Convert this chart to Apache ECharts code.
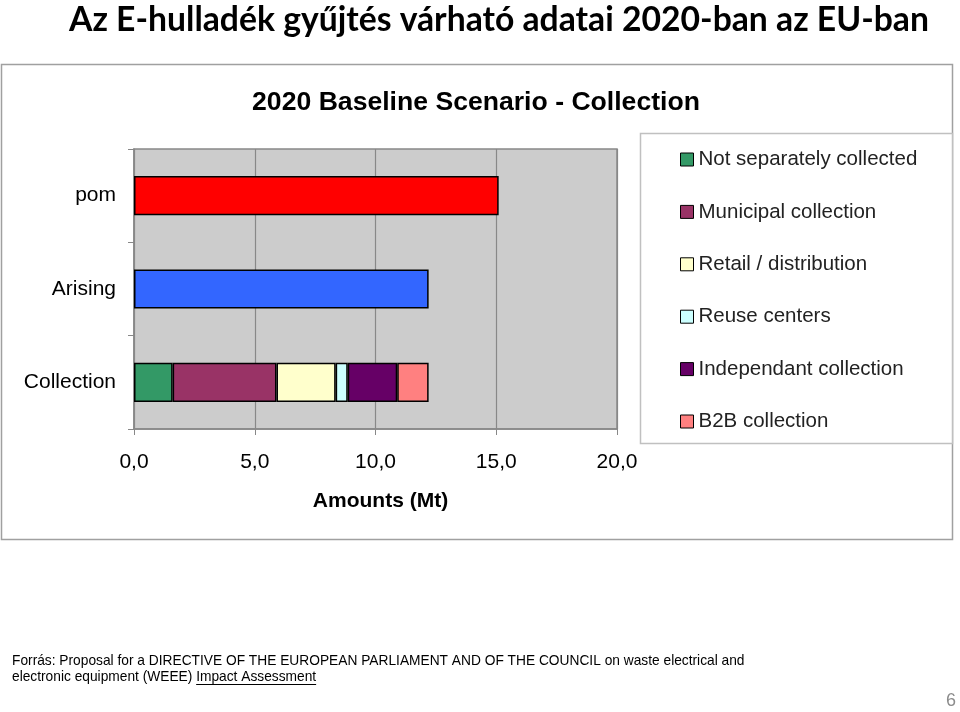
<!DOCTYPE html>
<html><head><meta charset="utf-8">
<script src="https://cdn.jsdelivr.net/npm/echarts@6/dist/echarts.min.js"></script>
<style>html,body{margin:0;padding:0;background:#fff}#c{width:960px;height:712px}</style>
</head><body><div id="c"></div>
<script>
var categories = ['Collection', 'Arising', 'pom'];
var xTicks = ['0,0', '5,0', '10,0', '15,0', '20,0'];
var pomValue = 15.1;
var arisingValue = 12.2;
var collectionNames = ['Not separately collected', 'Municipal collection', 'Retail / distribution', 'Reuse centers', 'Independant collection', 'B2B collection'];
var collectionValues = [1.6, 4.3, 2.45, 0.5, 2.05, 1.3];
var collectionColors = ['#339966', '#993366', '#ffffcc', '#ccffff', '#660066', '#ff8080'];

var font = 'Liberation Sans, Arial, sans-serif';
var footFont = '13.75px Liberation Sans';
var cv = document.createElement('canvas').getContext('2d');
cv.font = footFont;
var ulX1 = 12 + cv.measureText('electronic equipment (WEEE) ').width;
var ulX2 = ulX1 + cv.measureText('Impact Assessment').width;

var barStyle = function (c) { return { color: c, borderColor: '#000', borderWidth: 1.5 }; };
var series = [
  { name: 'pom', type: 'bar', stack: 't', data: ['-', '-', pomValue], itemStyle: barStyle('#ff0000'), barCategoryGap: '58%' },
  { name: 'Arising', type: 'bar', stack: 't', data: ['-', arisingValue, '-'], itemStyle: barStyle('#3366ff') }
];
collectionNames.forEach(function (n, i) {
  series.push({ name: n, type: 'bar', stack: 't', data: [collectionValues[i], '-', '-'], itemStyle: barStyle(collectionColors[i]) });
});

var chart = echarts.init(document.getElementById('c'));
chart.setOption({
  animation: false,
  title: [
    { text: 'Az E-hulladék gyűjtés várható adatai 2020-ban az EU-ban', left: 494, top: -2, textAlign: 'center',
      textStyle: { fontFamily: 'Lato, Open Sans, sans-serif', fontWeight: 'bold', fontSize: 33.7, color: '#000' } },
    { text: '2020 Baseline Scenario - Collection', left: 471, top: 84, textAlign: 'center',
      textStyle: { fontFamily: font, fontWeight: 'bold', fontSize: 26.6, color: '#000' } }
  ],
  graphic: [
    { type: 'rect', shape: { x: 1.5, y: 64.5, width: 951, height: 475 }, style: { fill: 'none', stroke: '#a0a0a0', lineWidth: 1.5 }, z: -1 },
    { type: 'rect', shape: { x: 640.5, y: 133.5, width: 312, height: 310 }, style: { fill: '#fff', stroke: '#c0c0c0', lineWidth: 1.5 }, z: -1 },
    { type: 'text', left: 12, top: 653, style: { text: 'Forrás: Proposal for a DIRECTIVE OF THE EUROPEAN PARLIAMENT AND OF THE COUNCIL on waste electrical and\nelectronic equipment (WEEE) Impact Assessment', font: footFont, fill: '#000', lineHeight: 16 } },
    { type: 'line', shape: { x1: ulX1, y1: 684.5, x2: ulX2, y2: 684.5 }, style: { stroke: '#000', lineWidth: 1 } },
    { type: 'text', right: 4, top: 692, style: { text: '6', font: '18px ' + font, fill: '#8c8c8c' } }
  ],
  legend: {
    data: collectionNames, orient: 'vertical', left: 675, top: 144,
    itemWidth: 13, itemHeight: 13, itemGap: 31.4, icon: 'rect',
    itemStyle: { borderColor: '#000', borderWidth: 1 },
    textStyle: { fontFamily: font, fontSize: 20.5, color: '#222', lineHeight: 20 }
  },
  grid: { left: 134, right: 343, top: 149, bottom: 283, show: true, backgroundColor: '#cccccc', borderColor: '#888', borderWidth: 1.5 },
  xAxis: {
    type: 'value', min: 0, max: 20, interval: 5,
    name: 'Amounts (Mt)', nameLocation: 'middle', nameGap: 62,
    nameTextStyle: { fontFamily: font, fontWeight: 'bold', fontSize: 21, color: '#000', padding: [0, 0, 0, 10] },
    axisLine: { show: true, lineStyle: { color: '#888', width: 1.5 } },
    axisTick: { show: true, length: 6, lineStyle: { color: '#888' } },
    splitLine: { show: true, lineStyle: { color: '#888', width: 1.2 } },
    axisLabel: { margin: 23, fontFamily: font, fontSize: 21, color: '#000',
      formatter: function (v) { return xTicks[Math.round(v / 5)]; } }
  },
  yAxis: {
    type: 'category', data: categories,
    axisLine: { show: true, lineStyle: { color: '#888', width: 1.5 } },
    axisTick: { show: true, length: 6, lineStyle: { color: '#888' } },
    axisLabel: { margin: 18, fontFamily: font, fontSize: 21, color: '#000' }
  },
  series: series
});
</script></body></html>
